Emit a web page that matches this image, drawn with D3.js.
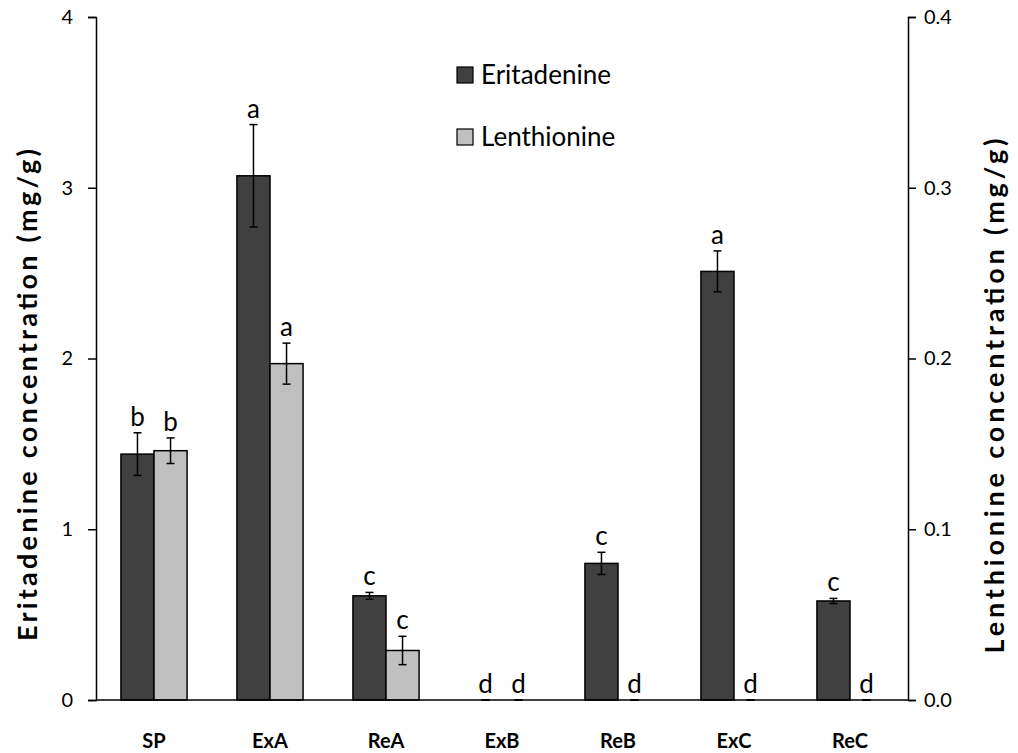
<!DOCTYPE html>
<html>
<head>
<meta charset="utf-8">
<script src="https://cdn.jsdelivr.net/npm/d3@7"></script>
<style>
  html, body { margin: 0; padding: 0; background: #fff; }
  svg { display: block; }
  text { font-family: Lato, "Open Sans", sans-serif; fill: #000; }
</style>
</head>
<body>
<svg id="chart" width="1018" height="753"></svg>
<script>
// Samples and measured concentrations (mean ± SD)
const samples = ["SP", "ExA", "ReA", "ExB", "ReB", "ExC", "ReC"];
const seriesNames = ["Eritadenine", "Lenthionine"];

const eritadenine    = [1.44, 3.07, 0.61, 0.00, 0.80, 2.51, 0.58];   // mg/g, left axis
const eritadenineErr = [0.125, 0.30, 0.02, 0.00, 0.065, 0.12, 0.015];
const eritadenineSig = ["b", "a", "c", "d", "c", "a", "c"];

const lenthionine    = [0.146, 0.197, 0.029, 0.000, 0.000, 0.000, 0.000]; // mg/g, right axis
const lenthionineErr = [0.0075, 0.012, 0.0083, 0, 0, 0, 0];
const lenthionineSig = ["b", "a", "c", "d", "d", "d", "d"];

const leftTicks  = [0, 1, 2, 3, 4];
const rightTicks = [0, 0.1, 0.2, 0.3, 0.4];

const colors = { Eritadenine: "#404040", Lenthionine: "#c0c0c0" };

const svg = d3.select("#chart");
const plotLeft = 96, plotRight = 908, plotTop = 17, plotBottom = 700;

const x = d3.scaleBand().domain(samples).range([plotLeft, plotRight])
  .paddingInner(0.43).paddingOuter(0.215);
const xs = d3.scaleBand().domain(seriesNames).range([0, x.bandwidth()]);
const yL = d3.scaleLinear().domain([0, 4]).range([plotBottom, plotTop]);
const yR = d3.scaleLinear().domain([0, 0.4]).range([plotBottom, plotTop]);

// Flatten into one record per bar
const bars = [];
samples.forEach((s, i) => {
  bars.push({ sample: s, series: "Eritadenine", v: eritadenine[i], e: eritadenineErr[i], sig: eritadenineSig[i], y: yL });
  bars.push({ sample: s, series: "Lenthionine", v: lenthionine[i], e: lenthionineErr[i], sig: lenthionineSig[i], y: yR });
});
const cx = d => x(d.sample) + xs(d.series) + xs.bandwidth() / 2;

// Bars (zero-valued bars are not drawn)
svg.append("g").selectAll("rect")
  .data(bars.filter(d => d.v > 0))
  .join("rect")
  .attr("x", d => x(d.sample) + xs(d.series))
  .attr("y", d => d.y(d.v))
  .attr("width", xs.bandwidth())
  .attr("height", d => d.y(0) - d.y(d.v))
  .attr("fill", d => colors[d.series])
  .attr("stroke", "#000")
  .attr("stroke-width", 1.5);

// Error bars
const eb = svg.append("g").attr("stroke", "#000").attr("stroke-width", 1.5);
const capW = 4;
bars.forEach(d => {
  const y1 = d.y(d.v + d.e), y0 = d.y(Math.max(0, d.v - d.e));
  const c = cx(d);
  if (d.e > 0) eb.append("line").attr("x1", c).attr("x2", c).attr("y1", y1).attr("y2", y0);
  eb.append("line").attr("x1", c - capW).attr("x2", c + capW).attr("y1", y1).attr("y2", y1);
  eb.append("line").attr("x1", c - capW).attr("x2", c + capW).attr("y1", y0).attr("y2", y0);
});

// Significance letters
svg.append("g").selectAll("text")
  .data(bars)
  .join("text")
  .attr("x", d => cx(d))
  .attr("y", d => d.y(d.v + d.e) - 7)
  .attr("text-anchor", "middle")
  .attr("font-size", 26)
  .text(d => d.sig);

// Left axis
const axL = svg.append("g").attr("transform", `translate(${plotLeft},0)`)
  .call(d3.axisLeft(yL).tickValues(leftTicks).tickFormat(d3.format("d")).tickSizeOuter(0).tickSize(8).tickPadding(15));
axL.select(".domain").attr("stroke-width", 1.5);
axL.selectAll(".tick line").attr("stroke-width", 1.5);
axL.selectAll(".tick text").attr("font-size", 20).attr("font-family", "Lato, sans-serif");

// Right axis
const axR = svg.append("g").attr("transform", `translate(${plotRight},0)`)
  .call(d3.axisRight(yR).tickValues(rightTicks).tickFormat(d3.format(".1f")).tickSizeOuter(0).tickSize(8).tickPadding(8));
axR.select(".domain").attr("stroke-width", 1.5);
axR.selectAll(".tick line").attr("stroke-width", 1.5);
axR.selectAll(".tick text").attr("font-size", 20).attr("font-family", "'DejaVu Sans', sans-serif");

// Baseline
svg.append("line").attr("x1", plotLeft).attr("x2", plotRight).attr("y1", plotBottom).attr("y2", plotBottom)
  .attr("stroke", "#000").attr("stroke-width", 1.5);

// Category labels
svg.append("g").selectAll("text")
  .data(samples)
  .join("text")
  .attr("x", d => x(d) + x.bandwidth() / 2)
  .attr("y", 748)
  .attr("text-anchor", "middle")
  .attr("font-size", 20)
  .attr("font-weight", "bold")
  .text(d => d);

// Axis titles
svg.append("text")
  .attr("transform", "translate(37,395) rotate(-90)")
  .attr("text-anchor", "middle")
  .attr("font-size", 27)
  .attr("font-weight", "bold")
  .attr("textLength", 492)
  .attr("lengthAdjust", "spacing")
  .text("Eritadenine concentration (mg/g)");

svg.append("text")
  .attr("transform", "translate(1004,396) rotate(-90)")
  .attr("text-anchor", "middle")
  .attr("font-size", 27)
  .attr("font-weight", "bold")
  .attr("textLength", 515)
  .attr("lengthAdjust", "spacing")
  .text("Lenthionine concentration (mg/g)");

// Legend
const lg = svg.append("g").attr("transform", "translate(457,67)");
seriesNames.forEach((name, i) => {
  const g = lg.append("g").attr("transform", `translate(0,${i * 62})`);
  g.append("rect").attr("width", 16).attr("height", 16)
    .attr("fill", colors[name]).attr("stroke", "#000").attr("stroke-width", 1.2);
  g.append("text").attr("x", 24).attr("y", 17).attr("font-size", 26).text(name);
});
</script>
</body>
</html>
